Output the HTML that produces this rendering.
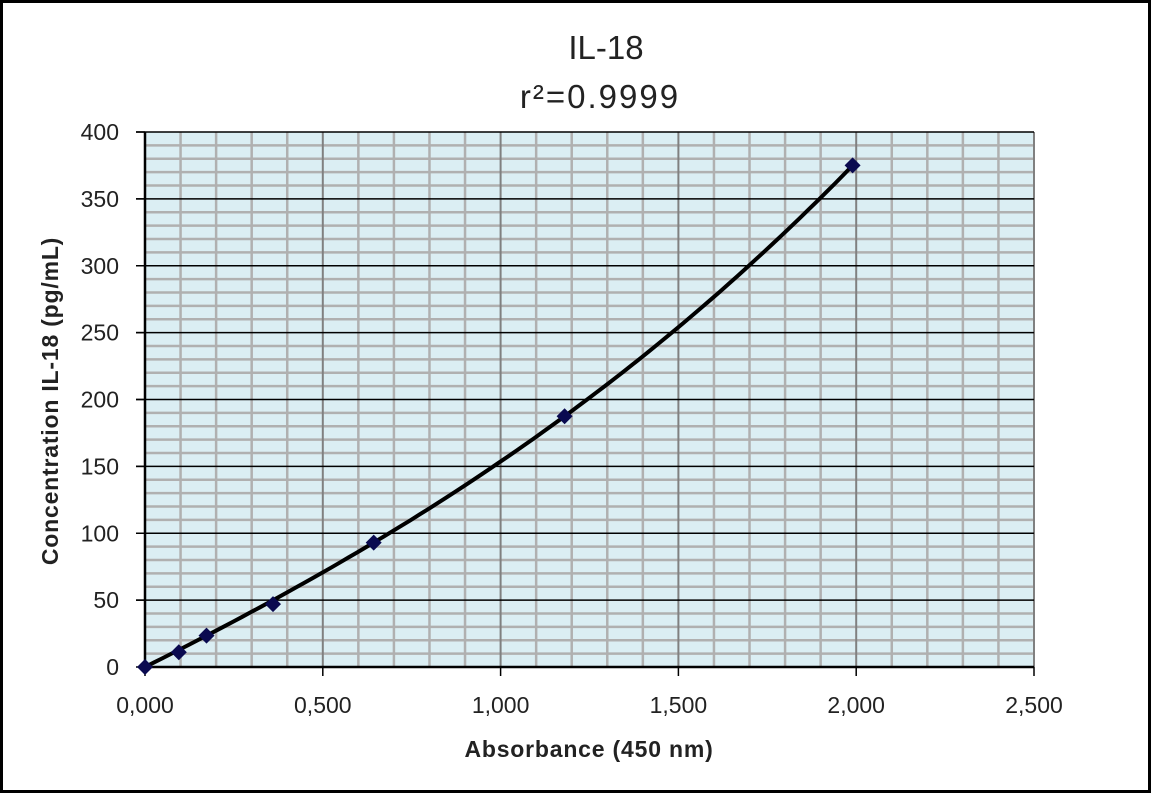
<!DOCTYPE html>
<html><head><style>body{margin:0;background:#fff}</style></head><body>
<svg width="1151" height="793" xmlns="http://www.w3.org/2000/svg" font-family="Liberation Sans, sans-serif">
<rect x="1.5" y="1.5" width="1148" height="790" fill="#fff" stroke="#000" stroke-width="3"/>
<rect x="145" y="132" width="889" height="535" fill="#dbeef3"/>
<g id="grid"></g>
<text x="606" y="59" font-size="33" text-anchor="middle" fill="#222">IL-18</text>
<text x="600" y="108" font-size="33" text-anchor="middle" fill="#222" letter-spacing="2">r²=0.9999</text>
<text x="589" y="757" font-size="23" font-weight="bold" text-anchor="middle" fill="#222" letter-spacing="0.8">Absorbance (450 nm)</text>
<text transform="translate(58,401) rotate(-90)" font-size="23" font-weight="bold" text-anchor="middle" fill="#222" letter-spacing="0.8">Concentration IL-18 (pg/mL)</text>
<polyline id="curve" fill="none" stroke="#000" stroke-width="4" stroke-linejoin="round" points=""/>
<g fill="#0a0a50" id="pts"></g>
</svg>
<script>
const ns="http://www.w3.org/2000/svg",svg=document.querySelector('svg'),g=document.getElementById('grid');
function L(x1,y1,x2,y2,c,w){const l=document.createElementNS(ns,'line');l.setAttribute('x1',x1);l.setAttribute('y1',y1);l.setAttribute('x2',x2);l.setAttribute('y2',y2);l.setAttribute('stroke',c);l.setAttribute('stroke-width',w);g.appendChild(l);}
function T(x,y,s,a){const t=document.createElementNS(ns,'text');t.setAttribute('x',x);t.setAttribute('y',y);t.setAttribute('font-size',23);t.setAttribute('text-anchor',a);t.setAttribute('fill','#222');t.textContent=s;svg.insertBefore(t,document.getElementById('curve'));}
for(let i=1;i<25;i++){if(i%5)L(145+i*35.56,132,145+i*35.56,667,'#b0b0b0',2.5);}
for(let i=1;i<40;i++){if(i%5)L(145,667-i*13.375,1034,667-i*13.375,'#b0b0b0',2.5);}
for(let i=1;i<=5;i++)L(145+i*177.8,132,145+i*177.8,667,'#808080',2);
for(let i=1;i<=8;i++)L(136,667-i*66.875,1034,667-i*66.875,'#000',1.5);
L(145,132,145,667,'#000',2.5);L(145,667,1034,667,'#000',2.5);
for(let i=0;i<=5;i++){L(145+i*177.8,667,145+i*177.8,676,'#000',1.5);T(145+i*177.8,713,(i*0.5).toFixed(3).replace('.',','),'middle');}
for(let i=0;i<=8;i++){L(136,667-i*66.875,145,667-i*66.875,'#000',1.5);T(119,675-i*66.875,String(i*50),'end');}
let pts=[];
for(let k=0;k<=80;k++){const x=1.99*k/80;let y=133.1*x+13.17*x*x+7.35*x*x*x;if(k==0)y=0;pts.push((145+x*355.6).toFixed(1)+','+(667-y*1.3375).toFixed(1));}
document.getElementById('curve').setAttribute('points',pts.join(' '));
const p=document.getElementById('pts');
[[145,667],[178.8,652.3],[206.5,635.6],[273,604.1],[373.7,542.6],[564.6,416.2],[852.6,165.4]].forEach(([x,y])=>{const r=document.createElementNS(ns,'polygon');r.setAttribute('points',`${x},${y-8} ${x+8},${y} ${x},${y+8} ${x-8},${y}`);p.appendChild(r);});
</script>
</body></html>
